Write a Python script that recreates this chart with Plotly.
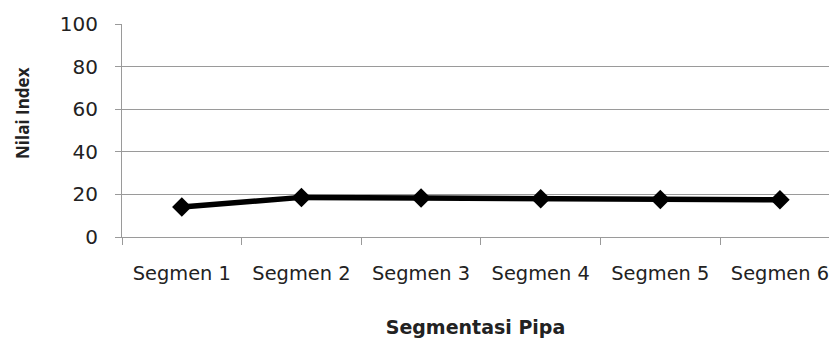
import plotly.graph_objects as go

categories = ["Segmen 1", "Segmen 2", "Segmen 3", "Segmen 4", "Segmen 5", "Segmen 6"]
values = [14.1, 18.6, 18.3, 17.9, 17.6, 17.5]
y_ticks = [0, 20, 40, 60, 80, 100]

fig = go.Figure()
fig.add_trace(go.Scatter(
    x=categories, y=values, mode="lines+markers",
    line=dict(color="black", width=5.5),
    marker=dict(symbol="diamond", size=15, color="black"),
    showlegend=False,
))

grid = "#9a9a9a"
fig.update_layout(
    width=829, height=345,
    margin=dict(l=122, r=0, t=24, b=108, autoexpand=False),
    paper_bgcolor="white", plot_bgcolor="white",
    font=dict(family="DejaVu Sans", color="#222222"),
    xaxis=dict(
        type="category", range=[-0.5, 5.41],
        tickson="boundaries", ticks="outside", ticklen=7, tickcolor=grid,
        showgrid=False, showline=True, linecolor=grid, linewidth=1,
        tickfont=dict(size=19.4), ticklabelstandoff=19,
        title=dict(text="<b>Segmentasi Pipa</b>", font=dict(size=19), standoff=36),
    ),
    yaxis=dict(
        range=[0, 100], tickvals=y_ticks, ticks="outside", ticklen=6, tickcolor=grid,
        showgrid=True, gridcolor=grid, gridwidth=1,
        showline=True, linecolor=grid, linewidth=1, zeroline=False,
        tickfont=dict(size=20), ticklabelstandoff=13,
    ),
    annotations=[dict(
        text="<b>Nilai Index</b>", textangle=-90, showarrow=False,
        xref="paper", yref="paper", x=0, y=0.582, xanchor="center", yanchor="middle",
        xshift=-100, font=dict(size=17, family="Open Sans", color="#222222"),
    )],
)
fig.write_html(
    "out.html",
    config={"displayModeBar": False},
    post_script="document.body.style.margin='0';document.body.style.overflow='hidden';",
)
